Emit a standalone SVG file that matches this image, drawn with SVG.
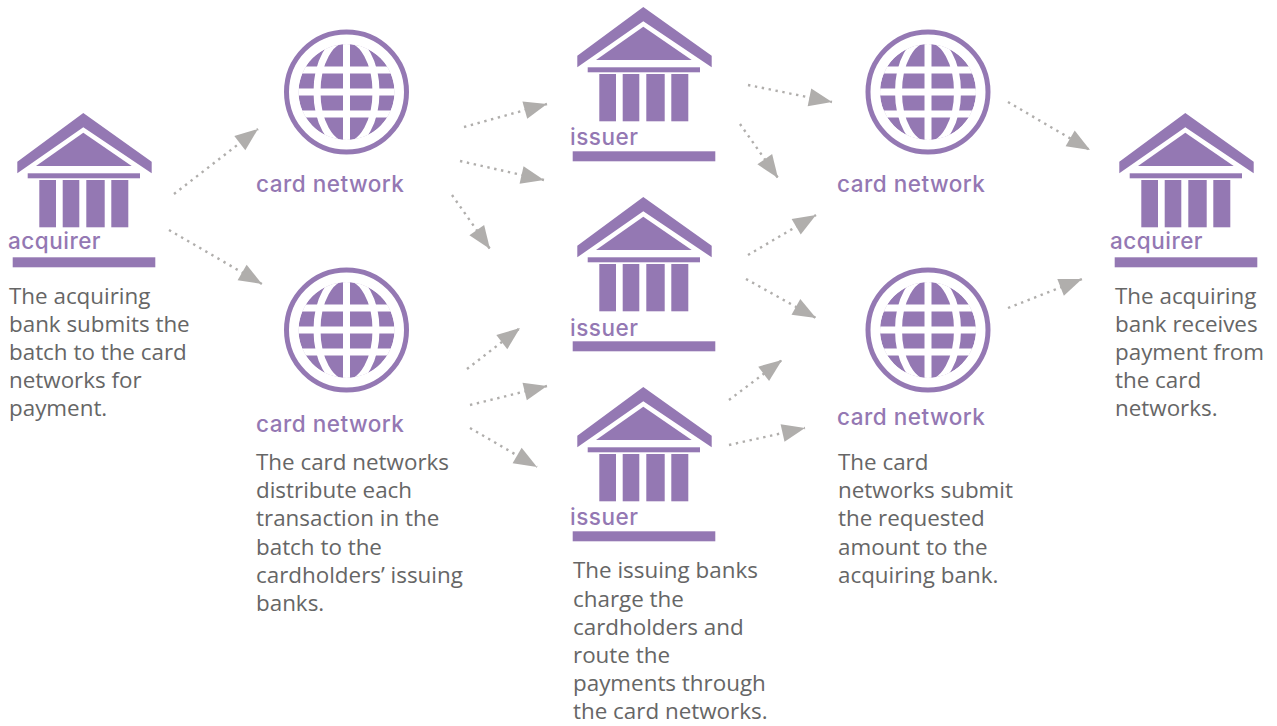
<svg xmlns="http://www.w3.org/2000/svg" width="1277" height="726" viewBox="0 0 1277 726">
<style>
.p{fill:#9478b3}
.lab{font-family:"Inter","Liberation Sans",sans-serif;font-size:22.5px;letter-spacing:.5px;font-weight:500;fill:#9478b3}
.body{font-family:"Open Sans","Liberation Sans",sans-serif;font-size:22.4px;fill:#666}
.c{fill:none;stroke:#b0aeac;stroke-width:2.4;stroke-dasharray:2.4 4.6;marker-end:url(#ah)}
.w{fill:none;stroke:#fff;stroke-width:7}
</style>
<defs>
<marker id="ah" markerUnits="userSpaceOnUse" markerWidth="28" markerHeight="22" refX="24" refY="10" orient="auto"><path d="M1 1L24 10L1 19Z" fill="#b0aeac"/></marker>
<clipPath id="gc"><circle cx="0" cy="0" r="48"/></clipPath>
<g id="bank" class="p">
<path d="M83.3 113L151.7 161.7V173.3L83.3 127.3L17.3 173.3V161.7Z"/>
<path d="M83.3 132.7L131.7 166H36Z"/>
<rect x="27.7" y="173.3" width="112.3" height="5"/>
<rect x="39.3" y="180" width="16.7" height="47.3"/>
<rect x="62.7" y="180" width="16.6" height="47.3"/>
<rect x="86.3" y="180" width="18.4" height="47.3"/>
<rect x="111.3" y="180" width="17" height="47.3"/>
<rect x="12.7" y="257.3" width="142.6" height="10"/>
</g>
<g id="globe">
<circle r="60" fill="none" stroke="#9478b3" stroke-width="5"/>
<g clip-path="url(#gc)">
<circle r="48" class="p"/>
<ellipse rx="29.5" ry="53" class="w"/>
<path d="M0-50V50M-50-22H50M-50 0H50M-50 22H50" class="w"/>
</g>
</g>
</defs>
<g id="connectors">
<path class="c" d="M174 194L258 129"/>
<path class="c" d="M169 230L262 284"/>
<path class="c" d="M464 127L547 104"/>
<path class="c" d="M460 161L544 180"/>
<path class="c" d="M452 195L490 249"/>
<path class="c" d="M467 369L520 328"/>
<path class="c" d="M470 405L547 386"/>
<path class="c" d="M470 428L537 467"/>
<path class="c" d="M748 85L832 102"/>
<path class="c" d="M740 124L778 178"/>
<path class="c" d="M748 255L816 215"/>
<path class="c" d="M746 279L816 318"/>
<path class="c" d="M729 400L782 360"/>
<path class="c" d="M729 445L805 428"/>
<path class="c" d="M1008 102L1090 150"/>
<path class="c" d="M1008 308L1082 279"/>
</g>
<g id="acquirer1">
<use href="#bank"/>
<text class="lab" x="8" y="249">acquirer</text>
<text class="body"><tspan x="9" y="304">The acquiring</tspan><tspan x="9" y="332">bank submits the</tspan><tspan x="9" y="360">batch to the card</tspan><tspan x="9" y="388">networks for</tspan><tspan x="9" y="416">payment.</tspan></text>
</g>
<g id="network1"><use href="#globe" x="346.5" y="92"/><text class="lab" x="256" y="192">card network</text></g>
<g id="network2">
<use href="#globe" x="346.5" y="330"/><text class="lab" x="256" y="432">card network</text>
<text class="body"><tspan x="256" y="470">The card networks</tspan><tspan x="256" y="498">distribute each</tspan><tspan x="256" y="526">transaction in the</tspan><tspan x="256" y="555">batch to the</tspan><tspan x="256" y="583">cardholders’ issuing</tspan><tspan x="256" y="611">banks.</tspan></text>
</g>
<g id="issuer1"><use href="#bank" x="560" y="-106"/><text class="lab" x="570" y="145">issuer</text></g>
<g id="issuer2"><use href="#bank" x="560" y="84"/><text class="lab" x="570" y="336">issuer</text></g>
<g id="issuer3">
<use href="#bank" x="560" y="274"/><text class="lab" x="570" y="525">issuer</text>
<text class="body"><tspan x="573" y="578">The issuing banks</tspan><tspan x="573" y="607">charge the</tspan><tspan x="573" y="635">cardholders and</tspan><tspan x="573" y="663">route the</tspan><tspan x="573" y="691">payments through</tspan><tspan x="573" y="719">the card networks.</tspan></text>
</g>
<g id="network3"><use href="#globe" x="928" y="92"/><text class="lab" x="837" y="192">card network</text></g>
<g id="network4">
<use href="#globe" x="928" y="330"/><text class="lab" x="837" y="425">card network</text>
<text class="body"><tspan x="838" y="470">The card</tspan><tspan x="838" y="498">networks submit</tspan><tspan x="838" y="526">the requested</tspan><tspan x="838" y="555">amount to the</tspan><tspan x="838" y="583">acquiring bank.</tspan></text>
</g>
<g id="acquirer2">
<use href="#bank" x="1102"/>
<text class="lab" x="1110" y="249">acquirer</text>
<text class="body"><tspan x="1115" y="304">The acquiring</tspan><tspan x="1115" y="332">bank receives</tspan><tspan x="1115" y="360">payment from</tspan><tspan x="1115" y="388">the card</tspan><tspan x="1115" y="416">networks.</tspan></text>
</g>
</svg>
